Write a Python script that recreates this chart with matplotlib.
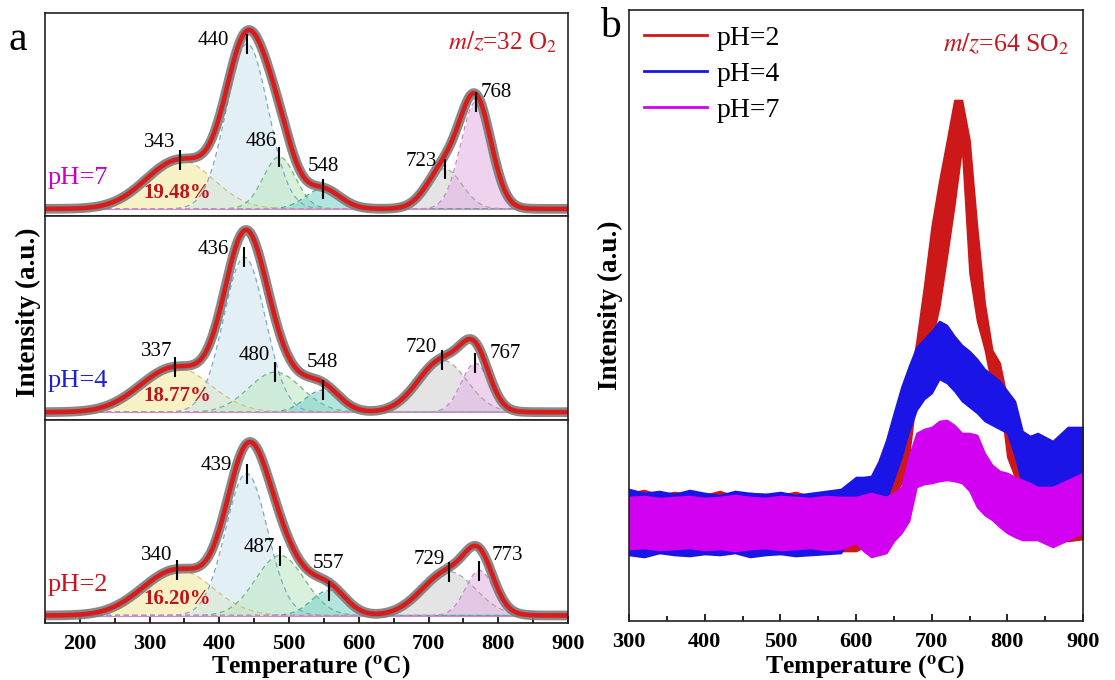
import numpy as np
import matplotlib
matplotlib.use("Agg")
import matplotlib.pyplot as plt
from matplotlib.lines import Line2D

plt.rcParams["font.family"] = ["Liberation Serif", "DejaVu Serif"]
plt.rcParams["mathtext.fontset"] = "stix"

# ---- panel a: O2 (m/z=32) peak fits, one row per pH (top to bottom) ----
ph_names = ["pH=7", "pH=4", "pH=2"]
ph_colors = ["#c800c8", "#2020d0", "#c8141c"]
share_text = ["19.48%", "18.77%", "16.20%"]

# peak centre (degC), height (a.u.), width sigma (degC)
centres_ph7 = [343, 440, 486, 548, 723, 768]
heights_ph7 = [49, 165, 52, 20, 40, 107]
widths_ph7 = [48, 30, 23, 25, 25, 22]

centres_ph4 = [337, 436, 480, 548, 720, 767]
heights_ph4 = [45, 155, 40, 22, 52, 49]
widths_ph4 = [50, 30, 38, 25, 35, 20]

centres_ph2 = [340, 439, 487, 557, 729, 773]
heights_ph2 = [46, 142, 60, 25, 44, 45]
widths_ph2 = [50, 30, 35, 25, 38, 20]

# ---- panel b: SO2 (m/z=64) signal, noise band read as upper / lower envelope ----
temp_b = [300, 320, 340, 360, 380, 400, 420, 440, 460, 480, 500, 520, 540, 560, 580,
          600, 610, 620, 630, 640, 650, 660, 670, 680, 690, 700, 710, 720, 730, 740,
          750, 760, 770, 780, 790, 800, 810, 820, 830, 840, 860, 880, 900]
so2_ph2_hi = [128, 131, 126, 129, 127, 126, 130, 125, 128, 127, 126, 129, 125, 127, 130,
              128, 128, 134, 142, 158, 170, 185, 235, 280, 335, 395, 440, 480, 521, 521,
              481, 394, 318, 271, 258, 221, 190, 162, 150, 140, 138, 136, 138]
so2_ph2_lo = [70, 68, 72, 69, 70, 71, 68, 70, 69, 71, 70, 68, 70, 69, 70,
              70, 74, 84, 98, 112, 125, 138, 165, 228, 262, 280, 314, 364, 416, 474,
              348, 300, 272, 234, 225, 164, 144, 121, 105, 95, 85, 80, 82]
so2_ph4_hi = [132, 128, 130, 127, 131, 128, 126, 130, 128, 127, 129, 126, 128, 130, 132,
              144, 144, 145, 160, 181, 208, 234, 255, 274, 282, 290, 300, 296, 285, 276,
              270, 262, 252, 246, 240, 230, 220, 190, 185, 188, 180, 194, 194]
so2_ph4_lo = [66, 64, 68, 66, 65, 67, 66, 68, 64, 66, 67, 65, 66, 67, 68,
              94, 96, 100, 110, 121, 142, 164, 190, 211, 222, 228, 242, 238, 230, 220,
              214, 208, 200, 196, 192, 188, 165, 136, 134, 134, 131, 134, 134]
so2_ph7_hi = [124, 125, 123, 124, 125, 123, 124, 126, 124, 123, 125, 124, 123, 125, 124,
              124, 126, 128, 126, 124, 128, 134, 165, 188, 192, 194, 200, 201, 196, 188,
              188, 186, 168, 156, 150, 148, 144, 141, 138, 134, 134, 141, 148]
so2_ph7_lo = [72, 73, 71, 72, 73, 71, 72, 70, 72, 73, 71, 72, 73, 71, 72,
              78, 70, 64, 66, 68, 80, 88, 100, 134, 137, 138, 140, 141, 140, 138,
              130, 114, 106, 101, 94, 88, 84, 81, 81, 81, 74, 81, 88]
so2_names = ["pH=2", "pH=4", "pH=7"]
so2_colors = ["#cc1818", "#1a14e6", "#d200f0"]

fill_cols = ["#f2eaa0", "#cfe6f0", "#bfe8c4", "#7fd4cc", "#d2d2d2", "#e4b4e4"]
edge_cols = ["#cfc37e", "#7fa7c8", "#6fb87c", "#4fa8a4", "#a8a8a8", "#c888c8"]

# label placement: (ha, dx px, offset of text centre below marker top px)
label_layout = [
    [("right", -4, -7), ("right", -18, 7), ("right", -2, -5.5), ("center", 1, -12.5), ("right", -8, 2.5), ("left", 5, 0.5)],
    [("right", -3, -5.5), ("right", -15, 2.5), ("right", -5, -6.5), ("center", 0, -17.5), ("right", -6, -2.5), ("left", 14, 0)],
    [("right", -5, -4), ("right", -15, 2.5), ("right", -5, 1.5), ("center", 0, -17.5), ("right", -4, -2.5), ("left", 12, -4.5)],
]

W, H = 1115, 680
fig = plt.figure(figsize=(W / 100, H / 100), dpi=100)

t = np.linspace(150, 900, 751)
px2pt = 72 / 100
rows = [(centres_ph7, heights_ph7, widths_ph7),
        (centres_ph4, heights_ph4, widths_ph4),
        (centres_ph2, heights_ph2, widths_ph2)]
panel_h = 610 / 3


def style_xaxis(ax):
    ax.tick_params(axis="x", which="both", direction="in", top=False, width=1.2,
                   labelsize=16, pad=8)
    ax.tick_params(axis="x", which="major", length=5)
    ax.tick_params(axis="x", which="minor", length=3.5)
    for lab in ax.get_xticklabels():
        lab.set_fontweight("bold")


axes_a = []
for i, (cen, hgt, wid) in enumerate(rows):
    top_px = 13 + i * panel_h
    ax = fig.add_axes([45 / W, 1 - (top_px + panel_h) / H, 523 / W, panel_h / H])
    axes_a.append(ax)
    total = np.zeros_like(t)
    for c, h, w, fc, ec in zip(cen, hgt, wid, fill_cols, edge_cols):
        comp = h * np.exp(-(t - c) ** 2 / (2 * w ** 2))
        total += comp
        ax.fill_between(t, 0, comp, color=fc, alpha=0.6, lw=0)
        ax.plot(t, comp, color=ec, ls=(0, (4, 3)), lw=0.9)
    ax.axhline(0, color="#c98cc9", lw=0.8)
    ax.plot(t, total, color="#7c7c7c", lw=7, alpha=0.9, solid_capstyle="round")
    ax.plot(t, total, color="#d81c1c", lw=3.3)
    for c, h, (ha, dx, cy) in zip(cen, hgt, label_layout[i]):
        ax.vlines(c, h - 10, h + 10, color="k", lw=1.5)
        ax.annotate(str(c), xy=(c, h + 10), xytext=(dx * px2pt, -cy * px2pt),
                    textcoords="offset points", ha=ha, va="center", fontsize=15)
    ax.text(153, 31, ph_names[i], color=ph_colors[i], fontsize=19, ha="left", va="center")
    ax.text(340, 16, share_text[i], color="#c0141c", fontsize=15, fontweight="bold",
            ha="center", va="center")
    ax.set_xlim(150, 900)
    ax.set_ylim(-7.5, panel_h - 7.5)
    ax.set_yticks([])
    for s in ax.spines.values():
        s.set_linewidth(1.2)
        s.set_color("#222222")
    if i < 2:
        ax.set_xticks([])
    else:
        ax.set_xticks(range(200, 901, 100))
        ax.set_xticks(range(150, 901, 50), minor=True)
        style_xaxis(ax)

axes_a[0].text(0.979, 0.857, r"$m/z$=32 O$_2$", transform=axes_a[0].transAxes,
               color="#c8141c", fontsize=18, ha="right", va="center")

# ---- panel b ----
axb = fig.add_axes([629 / W, 1 - 621 / H, 454 / W, 611 / H])
for hi, lo, col in [(so2_ph2_hi, so2_ph2_lo, so2_colors[0]),
                    (so2_ph4_hi, so2_ph4_lo, so2_colors[1]),
                    (so2_ph7_hi, so2_ph7_lo, so2_colors[2])]:
    axb.fill_between(temp_b, lo, hi, facecolor=col, edgecolor=col, lw=1.2)
axb.set_xlim(300, 900)
axb.set_ylim(0, 611)
axb.set_yticks([])
axb.set_xticks(range(300, 901, 100))
axb.set_xticks(range(300, 901, 50), minor=True)
style_xaxis(axb)
for s in axb.spines.values():
    s.set_linewidth(1.2)
    s.set_color("#222222")

handles = [Line2D([], [], color=c, lw=2) for c in so2_colors]
axb.legend(handles, so2_names, loc="upper left", bbox_to_anchor=(0.0, 1.0),
           frameon=False, fontsize=20, handlelength=2.25, handletextpad=0.35,
           labelspacing=0.38, borderaxespad=0.15)
axb.text(0.971, 0.944, r"$m/z$=64 SO$_2$", transform=axb.transAxes,
         color="#c8141c", fontsize=18.5, ha="right", va="center")

# axis titles and panel letters
fig.text(28 / W, 1 - 312 / H, "Intensity (a.u.)", rotation=90, ha="center", va="center",
         fontsize=19.5, fontweight="bold")
fig.text(610 / W, 1 - 305 / H, "Intensity (a.u.)", rotation=90, ha="center", va="center",
         fontsize=19.5, fontweight="bold")
fig.text(311 / W, 6 / H, r"Temperature ($^{\mathbf{o}}$C)", ha="center", va="baseline",
         fontsize=18.5, fontweight="bold")
fig.text(865 / W, 6 / H, r"Temperature ($^{\mathbf{o}}$C)", ha="center", va="baseline",
         fontsize=18.5, fontweight="bold")
fig.text(8 / W, 1 - 50 / H, "a", fontsize=30, ha="left", va="baseline")
fig.text(600 / W, 1 - 37 / H, "b", fontsize=30, ha="left", va="baseline")

fig.savefig("out.png", dpi=100)
plt.close(fig)
